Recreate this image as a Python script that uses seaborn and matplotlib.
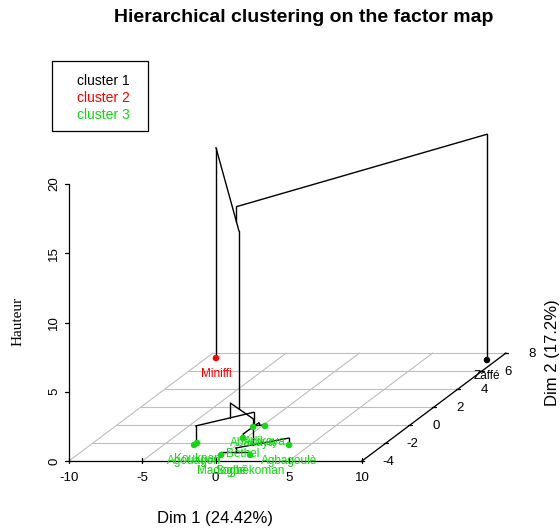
import numpy as np
import pandas as pd
import seaborn as sns
import matplotlib.pyplot as plt
from matplotlib.patches import Rectangle

# individuals on the factor map (Dim 1, Dim 2) and their cluster
names = ['Agouagon', 'Koukpan', 'Madogbé', 'Bethel', 'Sogbêkoman',
         'Abakaya', 'Adikaya', 'Agbagoulè', 'Miniffi', 'Zaffé']
dim1 = [-2.92, -2.90, -0.17, -0.22, 1.81, -0.53, 0.19, 3.56, -9.34, 9.34]
dim2 = [-2.22, -2.00, -3.33, -1.44, -3.33, -0.22, -0.11, -2.22, 7.44, 7.22]
clust = [3, 3, 3, 3, 3, 3, 3, 3, 2, 1]

# hclust-like merge table: negative = individual, positive = earlier merge
merge = [(-1, -2), (-6, -7), (-3, -5), (-4, 2), (3, -8),
         (1, 4), (6, 5), (-9, 7), (8, -10)]
height = [0.10, 0.08, 0.20, 0.28, 0.50, 1.30, 2.36, 15.2, 16.3]

xticks = [-10, -5, 0, 5, 10]
yticks = [-4, -2, 0, 2, 4, 6, 8]
zticks = [0, 5, 10, 15, 20]
legend_labels = ['cluster 1', 'cluster 2', 'cluster 3']
cl_colors = {1: 'black', 2: 'red', 3: '#11D811'}

XLIM = (-10, 10)
YLIM = (-4, 8)
ZLIM = (0, 20)
# oblique (scatterplot3d-like) shift of the Dim 2 axis
KX, KZ = 12 / 14.65, 9 / 13.85


def proj(x, y, z):
    x = np.asarray(x, float)
    y = np.asarray(y, float)
    z = np.asarray(z, float)
    return x + KX * (y - YLIM[0]), z + KZ * (y - YLIM[0])


sns.set_style('white')
plt.rcParams['font.family'] = ['Liberation Sans', 'DejaVu Sans']
plt.rcParams['text.color'] = 'black'

W, H = 560, 531
fig = plt.figure(figsize=(W / 100, H / 100), dpi=100)
ax = fig.add_axes([0, 0, 1, 1])
ax.set_xlim(-215.5 / 14.65, (W - 215.5) / 14.65)
ax.set_ylim((461 - H) / 13.85, 461 / 13.85)
ax.axis('off')

def seg(x, y, z, **kw):
    X, Z = proj(x, y, z)
    ax.plot(X, Z, **kw)

# floor grid
for v in yticks:
    seg(XLIM, [v, v], [0, 0], color='#BEBEBE', lw=0.8, zorder=1)
for v in xticks:
    seg([v, v], YLIM, [0, 0], color='#BEBEBE', lw=0.8, zorder=1)

# axes
ax_kw = dict(color='black', lw=0.9, zorder=2)
seg(XLIM, [YLIM[0]] * 2, [0, 0], **ax_kw)
seg([XLIM[1]] * 2, YLIM, [0, 0], **ax_kw)
seg([XLIM[0]] * 2, [YLIM[0]] * 2, ZLIM, **ax_kw)

for v in xticks:
    seg([v, v], [YLIM[0]] * 2, [0.2, -0.15], **ax_kw)
    ax.annotate(str(v), proj(v, YLIM[0], 0), xytext=(0, -17),
                textcoords='offset pixels', ha='center', va='center', fontsize=9.5)
for v in yticks:
    seg([XLIM[1] - 0.15, XLIM[1] + 0.15], [v, v], [0, 0], **ax_kw)
    ax.annotate(str(v), proj(XLIM[1], v, 0), xytext=(26, -1),
                textcoords='offset pixels', ha='center', va='center', fontsize=9.5)
for v in zticks:
    seg([XLIM[0], XLIM[0] - 0.3], [YLIM[0]] * 2, [v, v], **ax_kw)
    ax.annotate(str(v), proj(XLIM[0], YLIM[0], v), xytext=(-15, 0),
                textcoords='offset pixels', ha='center', va='center',
                rotation=90, fontsize=9.5)

# tree: nodes sit at the centroid of their individuals
pos = {}

def child(c):
    if c < 0:
        i = -c - 1
        return dim1[i], dim2[i], 1, 0.0
    x, y, n = pos[c]
    return x, y, n, height[c - 1]

for k, (a, b) in enumerate(merge, start=1):
    h = height[k - 1]
    xa, ya, na, ha = child(a)
    xb, yb, nb, hb = child(b)
    seg([xa, xa], [ya, ya], [ha, h], color='black', lw=1, zorder=3)
    seg([xb, xb], [yb, yb], [hb, h], color='black', lw=1, zorder=3)
    seg([xa, xb], [ya, yb], [h, h], color='black', lw=1, zorder=3)
    pos[k] = ((xa * na + xb * nb) / (na + nb), (ya * na + yb * nb) / (na + nb), na + nb)

# individuals
px, pz = proj(dim1, dim2, np.zeros(len(dim1)))
df = pd.DataFrame({'X': px, 'Z': pz, 'cluster': clust, 'name': names})
sns.scatterplot(data=df, x='X', y='Z', hue='cluster', palette=cl_colors,
                s=22, linewidth=0, legend=False, ax=ax, zorder=4)
for _, r in df.iterrows():
    ax.annotate(r['name'], (r['X'], r['Z']), xytext=(0, -16),
                textcoords='offset pixels', ha='center', va='center',
                fontsize=8.5, color=cl_colors[r['cluster']], zorder=5)

# legend box
fig.patches.append(Rectangle((52 / W, 1 - 131 / H), 96 / W, 70 / H,
                             transform=fig.transFigure, fill=False,
                             edgecolor='black', lw=0.9))
for i, lab in enumerate(legend_labels):
    fig.text(77 / W, 1 - (81 + 17 * i) / H, lab, ha='left', va='center',
             fontsize=10, color=cl_colors[i + 1])

fig.text(304 / W, 1 - 18 / H, 'Hierarchical clustering on the factor map',
         ha='center', va='center', fontsize=14, fontweight='bold')
fig.text(215 / W, 1 - 519 / H, 'Dim 1 (24.42%)', ha='center', va='center', fontsize=12)
fig.text(552 / W, 1 - 353 / H, 'Dim 2 (17.2%)', ha='center', va='center',
         fontsize=12, rotation=90)
fig.text(18 / W, 1 - 321 / H, 'Hauteur', ha='center', va='center', fontsize=11,
         rotation=90, family=['Liberation Serif', 'DejaVu Serif'])

fig.savefig('out.png', dpi=100)
